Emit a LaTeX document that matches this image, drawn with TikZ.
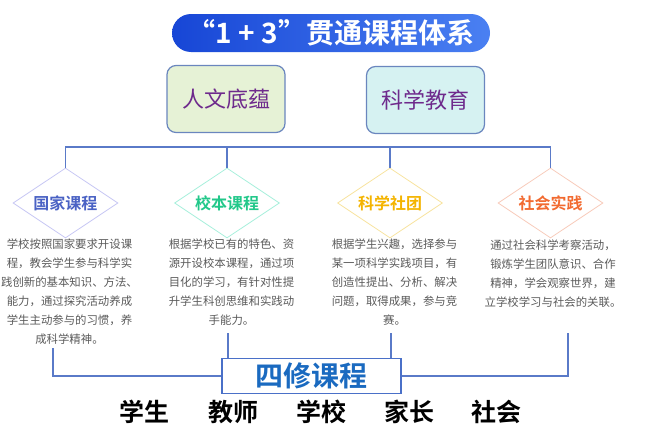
\documentclass[tikz,border=0pt]{standalone}
\usepackage{fontspec}
\setmainfont{Noto Sans CJK SC}[BoldFont={Noto Sans CJK SC Bold}]
\usetikzlibrary{shapes.geometric}
\usetikzlibrary{calc}

\definecolor{linkblue}{HTML}{5A7AC8}
\definecolor{titleL}{HTML}{1746D6}
\definecolor{titleR}{HTML}{4A80F2}
\definecolor{boxedge}{HTML}{6A86BE}
\definecolor{culture}{HTML}{6E2A8C}
\definecolor{greenfill}{HTML}{E6F2D6}
\definecolor{cyanfill}{HTML}{D6F2F2}
\definecolor{notegray}{HTML}{5A5A5A}
\definecolor{sixiuedge}{HTML}{4A70C8}
\definecolor{sixiutext}{HTML}{1A6AC0}
\definecolor{guojiaedge}{HTML}{C8C8F4}
\definecolor{guojiatext}{HTML}{4A62C4}
\definecolor{xiaobenedge}{HTML}{A8F0DC}
\definecolor{xiaobentext}{HTML}{22C88A}
\definecolor{shetuanedge}{HTML}{F8E4A0}
\definecolor{shetuantext}{HTML}{F4B400}
\definecolor{shijianedge}{HTML}{F8CCBC}
\definecolor{shijiantext}{HTML}{F26A30}

\tikzset{
  link/.style={draw=linkblue, line width=1.1pt},
  topbox/.style={draw=boxedge, line width=1.2pt, rounded corners=9pt,
    minimum width=118pt, minimum height=67pt, text=culture,
    font=\fontsize{22}{22}\selectfont},
  kind/.style={diamond, aspect=1.5, minimum width=105pt, minimum height=70pt,
    inner sep=0pt, fill=white, line width=0.8pt,
    font=\bfseries\fontsize{16}{16}\selectfont},
  note/.style={align=center, text=notegray, anchor=north, inner sep=0pt,
    font=\fontsize{11.4}{19}\selectfont},
  party/.style={font=\bfseries\fontsize{25}{25}\selectfont},
}

\begin{document}
\begin{tikzpicture}[x=1pt,y=-1pt]
	\useasboundingbox (0,0) rectangle (646,434);

	% title bar
	\node[rounded corners=19pt, minimum width=318pt, minimum height=38pt,
		left color=titleL, right color=titleR, text=white,
		font=\bfseries\fontsize{28}{28}\selectfont] (title) at (331,33) {“1 + 3”贯通课程体系};

	\node[topbox, fill=greenfill] (renwen) at (226,99) {人文底蕴};
	\node[topbox, fill=cyanfill] (kexue) at (425.5,100) {科学教育};

	% four kinds of courses
	\node[kind, draw=guojiaedge, text=guojiatext] (d1) at (65.5,203) {国家课程};
	\node[kind, draw=xiaobenedge, text=xiaobentext] (d2) at (227,203) {校本课程};
	\node[kind, draw=shetuanedge, text=shetuantext] (d3) at (390,203) {科学社团};
	\node[kind, draw=shijianedge, text=shijiantext] (d4) at (550.5,203) {社会实践};

	\coordinate (bar) at (0,147);
	\draw[link] (d1.north) -- (d1.north |- bar) -- (d4.north |- bar) -- (d4.north);
	\draw[link] (d2.north) -- (d2.north |- bar);
	\draw[link] (d3.north) -- (d3.north |- bar);

	\node[note] (n1) at (69.5,239) {学校按照国家要求开设课\\程，教会学生参与科学实\\践创新的基本知识、方法、\\能力，通过探究活动养成\\学生主动参与的习惯，养\\成科学精神。};
	\node[note] (n2) at (231.5,239) {根据学校已有的特色、资\\源开设校本课程，通过项\\目化的学习，有针对性提\\升学生科创思维和实践动\\手能力。};
	\node[note] (n3) at (394.5,239) {根据学生兴趣，选择参与\\某一项科学实践项目，有\\创造性提出、分析、解决\\问题，取得成果，参与竞\\赛。};
	\node[note] (n4) at (553,240) {通过社会科学考察活动，\\锻炼学生团队意识、合作\\精神，学会观察世界，建\\立学校学习与社会的关联。};

	% bottom
	\node[draw=sixiuedge, line width=1.6pt, fill=white, minimum width=179pt,
		minimum height=35pt, text=sixiutext,
		font=\bfseries\fontsize{28}{28}\selectfont] (sixiu) at (311.5,376) {四修课程};

	\coordinate (e1) at (53,348);
	\coordinate (e2) at (228,333);
	\coordinate (e3) at (391,333);
	\coordinate (e4) at (568,333);
	\draw[link] (e1) |- (sixiu.west);
	\draw[link] (e4) |- (sixiu.east);
	\draw[link] (e2) -- (e2 |- sixiu.north);
	\draw[link] (e3) -- (e3 |- sixiu.north);

	\foreach \who/\xx [count=\i] in {学生/144, 教师/233, 学校/321, 家长/409, 社会/496}
		\node[party] (p\i) at (\xx,412) {\who};
\end{tikzpicture}
\end{document}
